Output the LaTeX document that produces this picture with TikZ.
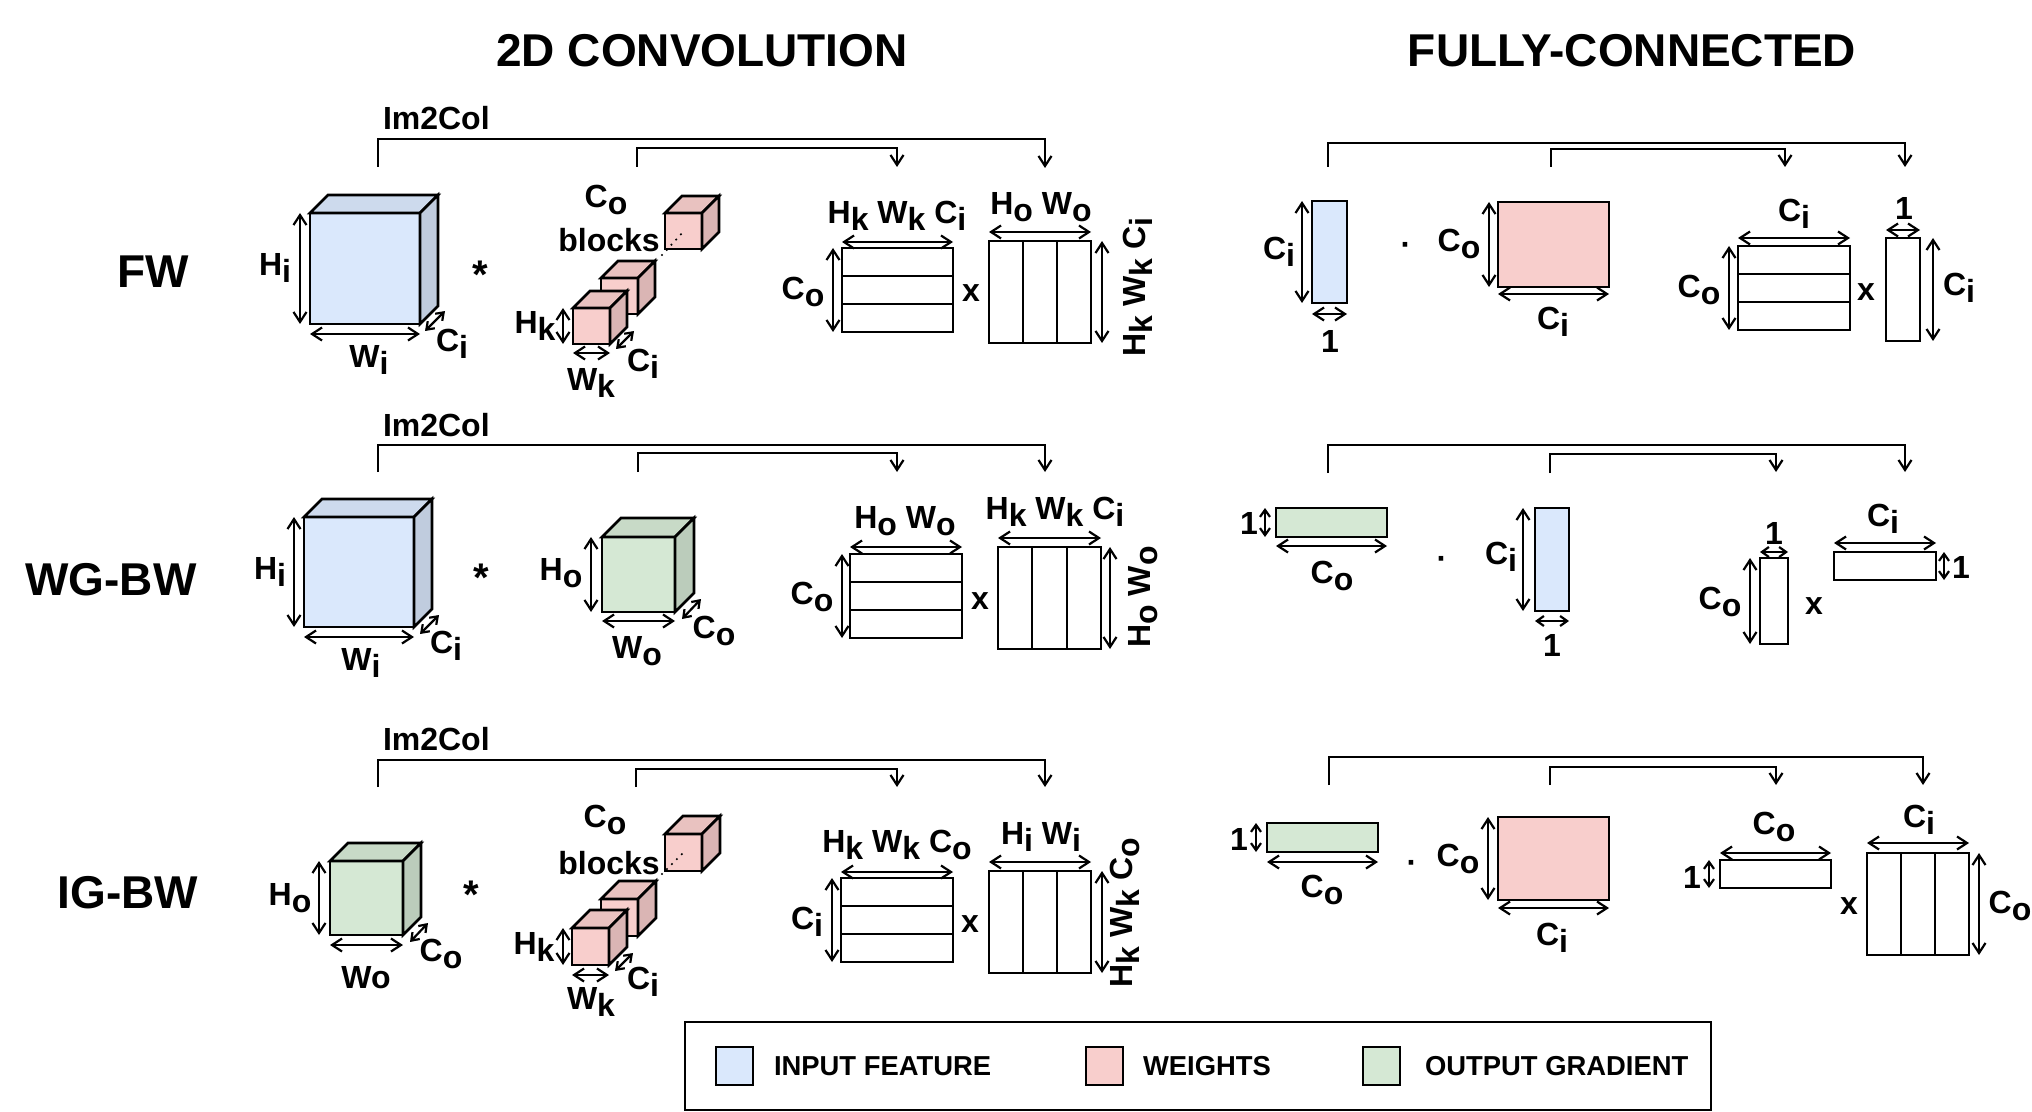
\documentclass[tikz,border=0pt]{standalone}
\usepackage{fontspec}
\setmainfont{Liberation Sans}
\usetikzlibrary{arrows.meta,calc}

\definecolor{cblue}{HTML}{DAE8FC}
\definecolor{cpink}{HTML}{F8CECC}
\definecolor{cgreen}{HTML}{D5E8D4}

\newcommand{\dsub}[1]{\raisebox{-0.22em}{#1}}
\newcommand{\lblfont}{\fontsize{16pt}{19pt}\selectfont\bfseries}
\newcommand{\starfont}{\fontsize{20pt}{24pt}\selectfont\bfseries}
\newcommand{\bigfont}{\fontsize{23pt}{28pt}\selectfont\bfseries}
\newcommand{\legfont}{\fontsize{13.7pt}{16pt}\selectfont\bfseries}

\tikzset{every picture/.style={line width=1pt},
  box/.style={draw, line width=1.3pt, inner sep=0pt, outer sep=0pt, anchor=north west},
  face/.style={draw, line width=1.3pt},
  sepline/.style={line width=1pt},
  dim/.style={{Straight Barb[length=5pt,width=6.5pt]}-{Straight Barb[length=5pt,width=6.5pt]}, line width=1.1pt},
  ddim/.style={{Straight Barb[length=3.5pt,width=5pt]}-{Straight Barb[length=3.5pt,width=5pt]}, line width=1.1pt},
  feed/.style={-{Straight Barb[length=5pt,width=6.5pt]}, line width=1.1pt},
  lbl/.style={font=\lblfont, inner sep=0pt},
  star/.style={font=\starfont, inner sep=0pt, anchor=base},
  head/.style={font=\bigfont, inner sep=0pt},
  leg/.style={font=\legfont, inner sep=0pt, anchor=west},
  dots/.style={line width=1.2pt, dash pattern=on 0pt off 3.5pt, line cap=round}}

% name, x, y, w, h, depth, colour
\newcommand{\cubebox}[7]{%
  \node[box, fill=#7, minimum width=#4*0.5pt, minimum height=#5*0.5pt] (#1) at (#2,#3) {};
  \filldraw[face, fill=#7!94!black] (#1.north west) -- ++(#6,-#6) -- ($(#1.north east)+(#6,-#6)$) -- (#1.north east) -- cycle;
  \filldraw[face, fill=#7!88!black] (#1.north east) -- ++(#6,-#6) -- ($(#1.south east)+(#6,-#6)$) -- (#1.south east) -- cycle;}
% name, x, y, w, h, colour
\newcommand{\vecbox}[6]{%
  \node[box, fill=#6, minimum width=#4*0.5pt, minimum height=#5*0.5pt] (#1) at (#2,#3) {};}
% name, x, y, w, h (three rows)
\newcommand{\rowmat}[5]{%
  \node[box, minimum width=#4*0.5pt, minimum height=#5*0.5pt] (#1) at (#2,#3) {};
  \foreach \nn in {1,2}
    \draw[sepline] ($(#1.north west)!\nn/3!(#1.south west)$) -- ($(#1.north east)!\nn/3!(#1.south east)$);}
% name, x, y, w, h (three columns)
\newcommand{\colmat}[5]{%
  \node[box, minimum width=#4*0.5pt, minimum height=#5*0.5pt] (#1) at (#2,#3) {};
  \foreach \nn in {1,2}
    \draw[sepline] ($(#1.north west)!\nn/3!(#1.north east)$) -- ($(#1.south west)!\nn/3!(#1.south east)$);}

\begin{document}
\begin{tikzpicture}[x=0.5pt, y=-0.5pt]
\useasboundingbox (0,0) rectangle (2032,1112);

% titles and rows
\node[head] (tconv) at (702,51) {2D CONVOLUTION};
\node[head] (tfc) at (1632,51) {FULLY-CONNECTED};
\node[head] (rfw) at (153,272) {FW};
\node[head] (rwg) at (111,580) {WG-BW};
\node[head] (rig) at (128,893) {IG-BW};

% ---------- FW, convolution
\node[lbl, anchor=west] (im1) at (382,118) {Im2Col};
\coordinate (a1o) at (378,167); \coordinate (b1o) at (1045,168);
\coordinate (a1i) at (637,167); \coordinate (b1i) at (897,167);
\draw[feed] (a1o) -- ++(0,-28) -| (b1o);
\draw[feed] (a1i) -- ++(0,-19) -| (b1i);

\cubebox{x1}{310}{213}{110}{111}{18}{cblue}
\draw[dim] ($(x1.north west)+(-10,0)$) -- ($(x1.south west)+(-10,0)$);
\draw[dim] ($(x1.south west)+(0,10)$) -- ($(x1.south east)+(0,10)$);
\draw[ddim] ($(x1.south east)+(5,7)$) -- ++(20,-20);
\node[lbl] (x1h) at (275,268) {H\dsub{i}};
\node[lbl] (x1w) at (369,360) {W\dsub{i}};
\node[lbl] (x1c) at (452,344) {C\dsub{i}};
\node[star] (st1) at (480,289) {*};

\cubebox{k1c}{665}{213}{37}{36}{17}{cpink}
\cubebox{k1b}{601}{278}{37}{36}{17}{cpink}
\cubebox{k1a}{573}{308}{37}{36}{17}{cpink}
\draw[dots] (662,255) -- (684,231);
\draw[dim] ($(k1a.north west)+(-10,0)$) -- ($(k1a.south west)+(-10,0)$);
\draw[dim] ($(k1a.south west)+(0,9)$) -- ($(k1a.south east)+(0,9)$);
\draw[ddim] ($(k1a.south east)+(6,5)$) -- ++(18,-18);
\node[lbl] (k1co) at (606,200) {C\dsub{o}};
\node[lbl] (k1bl) at (609,240) {blocks};
\node[lbl] (k1h) at (535,326) {H\dsub{k}};
\node[lbl] (k1w) at (591,383) {W\dsub{k}};
\node[lbl] (k1c) at (643,364) {C\dsub{i}};

\rowmat{m1a}{842}{248}{111}{84}
\draw[dim] ($(m1a.north west)+(0,-6)$) -- ($(m1a.north east)+(0,-6)$);
\draw[dim] ($(m1a.north west)+(-9,0)$) -- ($(m1a.south west)+(-9,0)$);
\node[lbl] (m1at) at (897,216) {H\dsub{k} W\dsub{k} C\dsub{i}};
\node[lbl] (m1al) at (803,292) {C\dsub{o}};
\node[lbl] (mul1) at (971,293) {x};

\colmat{m1b}{989}{241}{102}{102}
\draw[dim] ($(m1b.north west)+(0,-9)$) -- ($(m1b.north east)+(0,-9)$);
\draw[dim] ($(m1b.north east)+(11,0)$) -- ($(m1b.south east)+(11,0)$);
\node[lbl] (m1bt) at (1041,207) {H\dsub{o} W\dsub{o}};
\node[lbl, rotate=90] (m1br) at (1138,287) {H\dsub{k} W\dsub{k} C\dsub{i}};

% ---------- FW, fully-connected
\coordinate (c1o) at (1328,167); \coordinate (d1o) at (1905,167);
\coordinate (c1i) at (1551,167); \coordinate (d1i) at (1785,167);
\draw[feed] (c1o) -- ++(0,-24) -| (d1o);
\draw[feed] (c1i) -- ++(0,-18) -| (d1i);

\vecbox{f1a}{1312}{201}{35}{102}{cblue}
\draw[dim] ($(f1a.north west)+(-10,0)$) -- ($(f1a.south west)+(-10,0)$);
\draw[dim] ($(f1a.south west)+(0,11)$) -- ($(f1a.south east)+(0,11)$);
\node[lbl] (f1al) at (1279,252) {C\dsub{i}};
\node[lbl] (f1ab) at (1330,341) {1};
\node[lbl, anchor=base] (dot1) at (1406,256) {·};

\vecbox{f1b}{1498}{202}{111}{85}{cpink}
\draw[dim] ($(f1b.north west)+(-9,0)$) -- ($(f1b.south west)+(-9,0)$);
\draw[dim] ($(f1b.south west)+(0,7)$) -- ($(f1b.south east)+(0,7)$);
\node[lbl] (f1bl) at (1459,244) {C\dsub{o}};
\node[lbl] (f1bb) at (1553,322) {C\dsub{i}};

\rowmat{f1c}{1738}{246}{112}{84}
\draw[dim] ($(f1c.north west)+(0,-8)$) -- ($(f1c.north east)+(0,-8)$);
\draw[dim] ($(f1c.north west)+(-9,0)$) -- ($(f1c.south west)+(-9,0)$);
\node[lbl] (f1ct) at (1794,214) {C\dsub{i}};
\node[lbl] (f1cl) at (1699,290) {C\dsub{o}};
\node[lbl] (mul2) at (1866,292) {x};

\vecbox{f1d}{1886}{238}{34}{103}{white}
\draw[dim] ($(f1d.north west)+(0,-8)$) -- ($(f1d.north east)+(0,-8)$);
\draw[dim] ($(f1d.north east)+(13,0)$) -- ($(f1d.south east)+(13,0)$);
\node[lbl] (f1dt) at (1904,208) {1};
\node[lbl] (f1dr) at (1959,288) {C\dsub{i}};

% ---------- WG-BW, convolution
\node[lbl, anchor=west] (im2) at (382,425) {Im2Col};
\coordinate (a2o) at (378,472); \coordinate (b2o) at (1045,472);
\coordinate (a2i) at (638,472); \coordinate (b2i) at (897,472);
\draw[feed] (a2o) -- ++(0,-27) -| (b2o);
\draw[feed] (a2i) -- ++(0,-19) -| (b2i);

\cubebox{x2}{304}{517}{110}{110}{18}{cblue}
\draw[dim] ($(x2.north west)+(-10,0)$) -- ($(x2.south west)+(-10,0)$);
\draw[dim] ($(x2.south west)+(0,10)$) -- ($(x2.south east)+(0,10)$);
\draw[ddim] ($(x2.south east)+(6,7)$) -- ++(19,-19);
\node[lbl] (x2h) at (270,572) {H\dsub{i}};
\node[lbl] (x2w) at (361,663) {W\dsub{i}};
\node[lbl] (x2c) at (446,646) {C\dsub{i}};
\node[star] (st2) at (481,591) {*};

\cubebox{g2}{602}{537}{73}{75}{19}{cgreen}
\draw[dim] ($(g2.north west)+(-11,0)$) -- ($(g2.south west)+(-11,0)$);
\draw[dim] ($(g2.south west)+(0,9)$) -- ($(g2.south east)+(0,9)$);
\draw[ddim] ($(g2.south east)+(7,7)$) -- ++(19,-20);
\node[lbl] (g2h) at (561,573) {H\dsub{o}};
\node[lbl] (g2w) at (637,651) {W\dsub{o}};
\node[lbl] (g2c) at (714,631) {C\dsub{o}};

\rowmat{m2a}{850}{554}{112}{84}
\draw[dim] ($(m2a.north west)+(0,-7)$) -- ($(m2a.north east)+(0,-7)$);
\draw[dim] ($(m2a.north west)+(-8,0)$) -- ($(m2a.south west)+(-8,0)$);
\node[lbl] (m2at) at (905,521) {H\dsub{o} W\dsub{o}};
\node[lbl] (m2al) at (812,597) {C\dsub{o}};
\node[lbl] (mul3) at (980,601) {x};

\colmat{m2b}{998}{547}{103}{102}
\draw[dim] ($(m2b.north west)+(0,-9)$) -- ($(m2b.north east)+(0,-9)$);
\draw[dim] ($(m2b.north east)+(9,0)$) -- ($(m2b.south east)+(9,0)$);
\node[lbl] (m2bt) at (1055,512) {H\dsub{k} W\dsub{k} C\dsub{i}};
\node[lbl, rotate=90] (m2br) at (1143,597) {H\dsub{o} W\dsub{o}};

% ---------- WG-BW, fully-connected
\coordinate (c2o) at (1328,473); \coordinate (d2o) at (1905,472);
\coordinate (c2i) at (1550,473); \coordinate (d2i) at (1776,472);
\draw[feed] (c2o) -- ++(0,-28) -| (d2o);
\draw[feed] (c2i) -- ++(0,-19) -| (d2i);

\vecbox{f2a}{1276}{508}{111}{29}{cgreen}
\draw[ddim] ($(f2a.north west)+(-11,0)$) -- ($(f2a.south west)+(-11,0)$);
\draw[dim] ($(f2a.south west)+(0,9)$) -- ($(f2a.south east)+(0,9)$);
\node[lbl] (f2al) at (1249,523) {1};
\node[lbl] (f2ab) at (1332,576) {C\dsub{o}};
\node[lbl, anchor=base] (dot2) at (1442,569) {·};

\vecbox{f2b}{1535}{508}{34}{103}{cblue}
\draw[dim] ($(f2b.north west)+(-12,0)$) -- ($(f2b.south west)+(-12,0)$);
\draw[ddim] ($(f2b.south west)+(0,10)$) -- ($(f2b.south east)+(0,10)$);
\node[lbl] (f2bl) at (1501,557) {C\dsub{i}};
\node[lbl] (f2bb) at (1552,645) {1};

\vecbox{f2c}{1760}{558}{28}{86}{white}
\draw[ddim] ($(f2c.north west)+(0,-6)$) -- ($(f2c.north east)+(0,-6)$);
\draw[dim] ($(f2c.north west)+(-10,0)$) -- ($(f2c.south west)+(-10,0)$);
\node[lbl] (f2ct) at (1774,533) {1};
\node[lbl] (f2cl) at (1720,602) {C\dsub{o}};
\node[lbl] (mul4) at (1814,606) {x};

\vecbox{f2d}{1834}{552}{102}{28}{white}
\draw[dim] ($(f2d.north west)+(0,-9)$) -- ($(f2d.north east)+(0,-9)$);
\draw[ddim] ($(f2d.north east)+(8,0)$) -- ($(f2d.south east)+(8,0)$);
\node[lbl] (f2dt) at (1883,519) {C\dsub{i}};
\node[lbl] (f2dr) at (1961,567) {1};

% ---------- IG-BW, convolution
\node[lbl, anchor=west] (im3) at (382,739) {Im2Col};
\coordinate (a3o) at (378,787); \coordinate (b3o) at (1045,787);
\coordinate (a3i) at (636,787); \coordinate (b3i) at (897,787);
\draw[feed] (a3o) -- ++(0,-27) -| (b3o);
\draw[feed] (a3i) -- ++(0,-18) -| (b3i);

\cubebox{g3}{330}{861}{73}{74}{18}{cgreen}
\draw[dim] ($(g3.north west)+(-11,0)$) -- ($(g3.south west)+(-11,0)$);
\draw[dim] ($(g3.south west)+(0,10)$) -- ($(g3.south east)+(0,10)$);
\draw[ddim] ($(g3.south east)+(7,7)$) -- ++(18,-19);
\node[lbl] (g3h) at (290,898) {H\dsub{o}};
\node[lbl] (g3w) at (366,978) {Wo};
\node[lbl] (g3c) at (441,954) {C\dsub{o}};
\node[star] (st3) at (471,908) {*};

\cubebox{k3c}{665}{834}{37}{37}{18}{cpink}
\cubebox{k3b}{601}{899}{37}{37}{18}{cpink}
\cubebox{k3a}{572}{928}{37}{37}{18}{cpink}
\draw[dots] (662,874) -- (684,852);
\draw[dim] ($(k3a.north west)+(-9,0)$) -- ($(k3a.south west)+(-9,0)$);
\draw[dim] ($(k3a.south west)+(0,10)$) -- ($(k3a.south east)+(0,10)$);
\draw[ddim] ($(k3a.south east)+(6,6)$) -- ++(18,-18);
\node[lbl] (k3co) at (605,820) {C\dsub{o}};
\node[lbl] (k3bl) at (609,863) {blocks};
\node[lbl] (k3h) at (534,947) {H\dsub{k}};
\node[lbl] (k3w) at (591,1002) {W\dsub{k}};
\node[lbl] (k3c) at (643,982) {C\dsub{i}};

\rowmat{m3a}{841}{878}{112}{84}
\draw[dim] ($(m3a.north west)+(0,-6)$) -- ($(m3a.north east)+(0,-6)$);
\draw[dim] ($(m3a.north west)+(-9,0)$) -- ($(m3a.south west)+(-9,0)$);
\node[lbl] (m3at) at (897,845) {H\dsub{k} W\dsub{k} C\dsub{o}};
\node[lbl] (m3al) at (807,922) {C\dsub{i}};
\node[lbl] (mul5) at (970,924) {x};

\colmat{m3b}{989}{871}{102}{102}
\draw[dim] ($(m3b.north west)+(0,-9)$) -- ($(m3b.north east)+(0,-9)$);
\draw[dim] ($(m3b.north east)+(11,0)$) -- ($(m3b.south east)+(11,0)$);
\node[lbl] (m3bt) at (1041,837) {H\dsub{i} W\dsub{i}};
\node[lbl, rotate=90] (m3br) at (1125,913) {H\dsub{k} W\dsub{k} C\dsub{o}};

% ---------- IG-BW, fully-connected
\coordinate (c3o) at (1329,785); \coordinate (d3o) at (1923,785);
\coordinate (c3i) at (1550,785); \coordinate (d3i) at (1776,785);
\draw[feed] (c3o) -- ++(0,-28) -| (d3o);
\draw[feed] (c3i) -- ++(0,-18) -| (d3i);

\vecbox{f3a}{1267}{823}{111}{29}{cgreen}
\draw[ddim] ($(f3a.north west)+(-11,0)$) -- ($(f3a.south west)+(-11,0)$);
\draw[dim] ($(f3a.south west)+(0,10)$) -- ($(f3a.south east)+(0,10)$);
\node[lbl] (f3al) at (1239,839) {1};
\node[lbl] (f3ab) at (1322,890) {C\dsub{o}};
\node[lbl, anchor=base] (dot3) at (1412,873) {·};

\vecbox{f3b}{1498}{817}{111}{83}{cpink}
\draw[dim] ($(f3b.north west)+(-10,0)$) -- ($(f3b.south west)+(-10,0)$);
\draw[dim] ($(f3b.south west)+(0,8)$) -- ($(f3b.south east)+(0,8)$);
\node[lbl] (f3bl) at (1458,859) {C\dsub{o}};
\node[lbl] (f3bb) at (1552,938) {C\dsub{i}};

\vecbox{f3c}{1720}{860}{111}{28}{white}
\draw[dim] ($(f3c.north west)+(0,-7)$) -- ($(f3c.north east)+(0,-7)$);
\draw[ddim] ($(f3c.north west)+(-11,0)$) -- ($(f3c.south west)+(-11,0)$);
\node[lbl] (f3ct) at (1774,827) {C\dsub{o}};
\node[lbl] (f3cl) at (1692,877) {1};
\node[lbl] (mul6) at (1849,906) {x};

\colmat{f3d}{1867}{853}{102}{102}
\draw[dim] ($(f3d.north west)+(0,-10)$) -- ($(f3d.north east)+(0,-10)$);
\draw[dim] ($(f3d.north east)+(10,0)$) -- ($(f3d.south east)+(10,0)$);
\node[lbl] (f3dt) at (1919,820) {C\dsub{i}};
\node[lbl] (f3dr) at (2010,906) {C\dsub{o}};

% ---------- legend
\node[box, line width=1pt, minimum width=1026*0.5pt, minimum height=88*0.5pt] (legend) at (685,1022) {};
\node[box, fill=cblue, minimum width=37*0.5pt, minimum height=38*0.5pt] (sw1) at (716,1047) {};
\node[leg] (lg1) at (773,1066) {INPUT FEATURE};
\node[box, fill=cpink, minimum width=37*0.5pt, minimum height=38*0.5pt] (sw2) at (1086,1047) {};
\node[leg] (lg2) at (1142,1066) {WEIGHTS};
\node[box, fill=cgreen, minimum width=37*0.5pt, minimum height=38*0.5pt] (sw3) at (1363,1047) {};
\node[leg] (lg3) at (1424,1066) {OUTPUT GRADIENT};

\end{tikzpicture}
\end{document}
